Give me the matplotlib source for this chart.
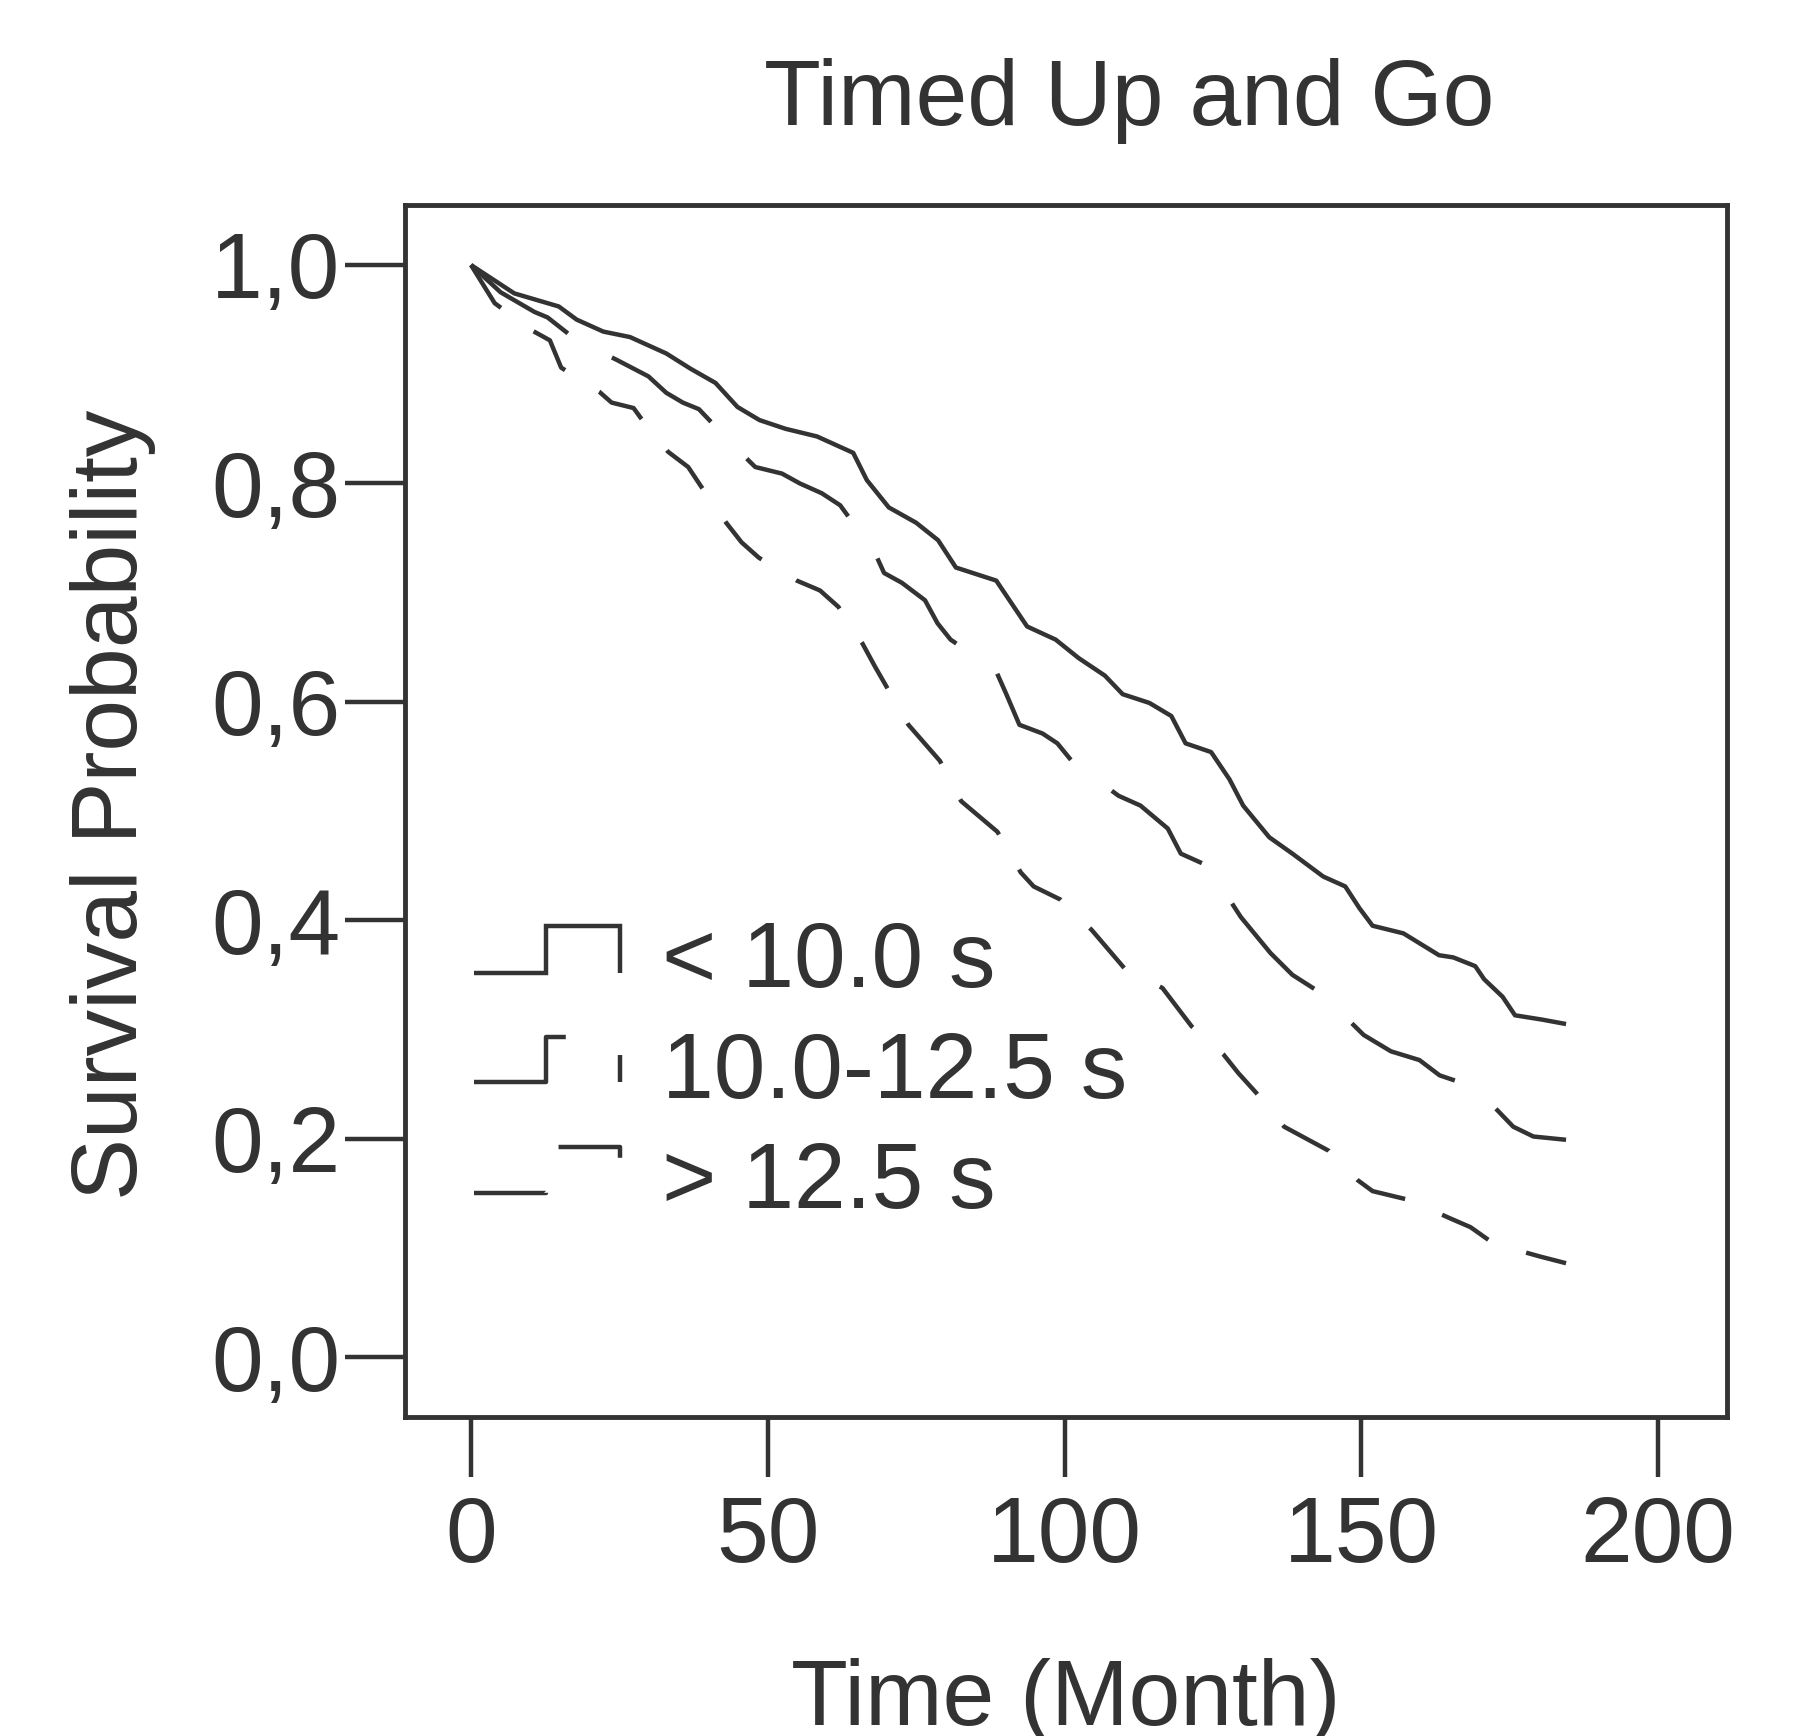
import matplotlib
matplotlib.use("Agg")
import matplotlib.pyplot as plt

plt.rcParams['font.family'] = ['Liberation Sans', 'DejaVu Sans']
plt.rcParams['lines.scale_dashes'] = False

title = "Timed Up and Go"
xlabel = "Time (Month)"
ylabel = "Survival Probability"
xticks = [0, 50, 100, 150, 200]
yticks = [0.0, 0.2, 0.4, 0.6, 0.8, 1.0]
ytick_labels = ["0,0", "0,2", "0,4", "0,6", "0,8", "1,0"]
group_labels = ["< 10.0 s", "10.0-12.5 s", "> 12.5 s"]

t_low = [0, 7.3, 14.8, 17.8, 22.3, 26.8, 32.9, 37, 41.2, 44.9, 48.6, 53, 58.3, 64.4, 66.7,
         70.4, 75, 78.7, 81.7, 88.5, 93.7, 98.5, 102.4, 106.8, 109.8, 114.3, 118, 120.4,
         124.7, 127.8, 130.1, 134.5, 138.4, 143.6, 147.3, 149.7, 151.9, 157.1, 160.1,
         163.1, 165.5, 169.2, 170.7, 173.8, 175.9, 180.5, 184.5]
s_low = [1.0, 0.974, 0.962, 0.950, 0.939, 0.934, 0.919, 0.905, 0.892, 0.870, 0.858, 0.850,
         0.843, 0.828, 0.803, 0.778, 0.764, 0.748, 0.723, 0.711, 0.669, 0.657, 0.640, 0.624,
         0.607, 0.599, 0.587, 0.562, 0.554, 0.529, 0.505, 0.476, 0.461, 0.440, 0.431, 0.411,
         0.395, 0.388, 0.378, 0.368, 0.366, 0.358, 0.346, 0.330, 0.313, 0.309, 0.305]

t_mid = [0, 5, 10.7, 12.9, 20.4, 23.1, 24.6, 29.9, 32.9, 35.7, 38.4, 44.9, 47.9, 52.4, 55.4,
         59.1, 62.2, 68.1, 69.6, 72.6, 76.5, 78.6, 80.8, 88.4, 90.2, 92.4, 96.3, 98.8, 101.2,
         109.1, 112.8, 117.4, 119.6, 124.1, 129.7, 134.7, 138.4, 143.3, 150.4, 155, 159.8,
         163.2, 169.2, 175.6, 179, 184.5]
s_mid = [1.0, 0.975, 0.957, 0.952, 0.920, 0.917, 0.913, 0.898, 0.883, 0.874, 0.868, 0.831,
         0.815, 0.809, 0.800, 0.791, 0.780, 0.736, 0.718, 0.709, 0.693, 0.672, 0.657, 0.629,
         0.607, 0.579, 0.571, 0.562, 0.546, 0.514, 0.505, 0.484, 0.461, 0.450, 0.403, 0.370,
         0.350, 0.333, 0.295, 0.280, 0.272, 0.258, 0.247, 0.211, 0.202, 0.199]

t_high = [0, 4, 10.3, 13.3, 15.2, 21.6, 23.7, 27.4, 28.6, 33.2, 36.6, 38.8, 43, 45.6, 48.5,
          54.9, 58.8, 61.9, 65.9, 68.1, 73.7, 79, 82.6, 88.7, 92.6, 94.8, 99.3, 104.6, 110.1,
          116.5, 121.4, 126.8, 129.3, 132.3, 137, 144.5, 149.4, 151.9, 158, 165, 168.4,
          172.3, 180.2, 184.5]
s_high = [1.0, 0.965, 0.940, 0.931, 0.906, 0.884, 0.874, 0.869, 0.860, 0.829, 0.815, 0.797,
          0.764, 0.746, 0.732, 0.711, 0.702, 0.687, 0.654, 0.632, 0.579, 0.546, 0.509, 0.481,
          0.444, 0.431, 0.419, 0.391, 0.356, 0.338, 0.303, 0.277, 0.260, 0.242, 0.211, 0.189,
          0.162, 0.152, 0.144, 0.127, 0.119, 0.104, 0.092, 0.086]

C = "#333333"
FS = 67
LW = 3.2
styles = ["-", (0, (86, 37)), (0, (38, 29))]
legend_styles = ["-", (16.5, (115, 52)), (0, (52, 42))]

fig = plt.figure(figsize=(18.03, 17.36), dpi=100)
ax = fig.add_axes([0.2246, 0.1837, 0.7332, 0.6982])

for t, s, ls in zip([t_low, t_mid, t_high], [s_low, s_mid, s_high], styles):
    ax.plot(t, s, color=C, lw=LW, linestyle=ls,
            solid_capstyle="butt", dash_capstyle="butt")

ax.set_xlim(-11.12, 211.6)
ax.set_ylim(-0.0549, 1.0549)
ax.set_xticks(xticks)
ax.set_xticklabels([str(v) for v in xticks])
ax.set_yticks(yticks)
ax.set_yticklabels(ytick_labels)

for sp in ax.spines.values():
    sp.set_linewidth(3.5)
    sp.set_color(C)
ax.tick_params(axis="both", direction="out", length=43, width=3.2, color=C,
               labelsize=FS, labelcolor=C)
ax.tick_params(axis="x", pad=13)
ax.tick_params(axis="y", pad=3.5)

ax.set_xlabel(xlabel, fontsize=FS, color=C, va="baseline")
ax.xaxis.set_label_coords(0.5, -0.254)
ax.set_ylabel(ylabel, fontsize=FS, color=C, va="baseline")
ax.yaxis.set_label_coords(-0.2027, 0.505)

ax.text(0.548, 1.066, title, transform=ax.transAxes, ha="center", va="baseline",
        fontsize=FS, color=C)

# Legend drawn manually (step-shaped handles)
lx = [0.0522, 0.1067, 0.1067, 0.1626, 0.1626]
rows_bottom = [0.3663, 0.2764, 0.1848]
rows_top = [0.4051, 0.3135, 0.2228]
rows_text = [0.3548, 0.2632, 0.1724]
for i, lab in enumerate(group_labels):
    yb, yt = rows_bottom[i], rows_top[i]
    ax.plot(lx, [yb, yb, yt, yt, yb], transform=ax.transAxes, color=C, lw=LW,
            linestyle=legend_styles[i], solid_capstyle="butt", dash_capstyle="butt",
            solid_joinstyle="miter", clip_on=False)
    ax.text(0.1944, rows_text[i], lab, transform=ax.transAxes, ha="left",
            va="baseline", fontsize=FS, color=C)

fig.savefig("out.png", dpi=100, facecolor="white")
